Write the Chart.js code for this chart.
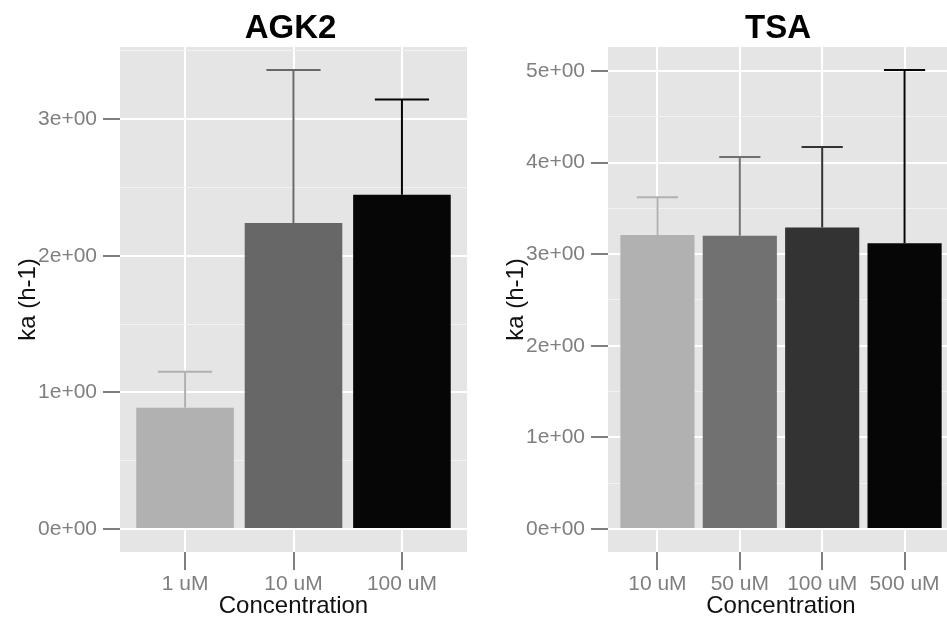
<!DOCTYPE html>
<html>
<head>
<meta charset="utf-8">
<script src="https://cdn.jsdelivr.net/npm/chart.js@4.4.1/dist/chart.umd.min.js"></script>
<style>
  html, body { margin: 0; padding: 0; background: #ffffff; overflow: hidden; width: 947px; height: 620px; }
  canvas { position: absolute; top: 0; }
  #agk2-chart { left: 0; }
  #tsa-chart { left: 488px; }
</style>
</head>
<body>
<canvas id="agk2-chart" width="467" height="620"></canvas>
<canvas id="tsa-chart" width="466" height="620"></canvas>
<script>
// AGK2 panel
let agk2Labels = ['1 uM', '10 uM', '100 uM'];
let agk2Means = [0.887, 2.24, 2.446];
let agk2Upper = [1.152, 3.36, 3.144];
let agk2Colors = ['#b1b1b1', '#676767', '#060606'];
let agk2YTicks = [0, 1, 2, 3];
let agk2YTickLabels = ['0e+00', '1e+00', '2e+00', '3e+00'];

// TSA panel
let tsaLabels = ['10 uM', '50 uM', '100 uM', '500 uM'];
let tsaMeans = [3.21, 3.20, 3.29, 3.12];
let tsaUpper = [3.62, 4.06, 4.17, 5.01];
let tsaColors = ['#b1b1b1', '#717171', '#333333', '#060606'];
let tsaYTicks = [0, 1, 2, 3, 4, 5];
let tsaYTickLabels = ['0e+00', '1e+00', '2e+00', '3e+00', '4e+00', '5e+00'];

const FONT = '"Liberation Sans", Arial, Helvetica, sans-serif';
const TICK_GREY = '#7f7f7f';

function makePanel(canvasId, title, labels, means, upper, colors, yTicks, yTickLabels) {
    // ggplot style: 5% expansion on y, 0.6 on discrete x
    let yTop = Math.max(...upper);
    let yMin = -0.05 * yTop;
    let yMax = yTop * 1.05;

    // major + minor breaks
    let yBreaks = [];
    for (let v = 0; v <= yMax; v += 0.5) yBreaks.push(v);

    const panel = {
        id: 'panel',
        beforeDraw(chart) {
            const {ctx, chartArea: a} = chart;
            ctx.save();
            ctx.fillStyle = '#e5e5e5';
            ctx.fillRect(a.left, a.top, a.right - a.left, a.bottom - a.top);
            ctx.restore();
        },
        afterDatasetsDraw(chart) {
            // upper error bars
            const ctx = chart.ctx;
            const xs = chart.scales.x, ys = chart.scales.y;
            const half = xs.getPixelForValue(0.25) - xs.getPixelForValue(0);
            ctx.save();
            ctx.lineWidth = 2;
            upper.forEach((u, i) => {
                const px = xs.getPixelForValue(i + 1);
                const top = ys.getPixelForValue(u);
                const base = ys.getPixelForValue(means[i]);
                ctx.strokeStyle = colors[i];
                ctx.beginPath();
                ctx.moveTo(px, base);
                ctx.lineTo(px, top);
                ctx.moveTo(px - half, top);
                ctx.lineTo(px + half, top);
                ctx.stroke();
            });
            ctx.restore();
        },
        afterDraw(chart) {
            const {ctx, chartArea: a} = chart;
            ctx.save();
            ctx.font = 'bold 33px ' + FONT;
            ctx.fillStyle = '#000000';
            ctx.textAlign = 'center';
            ctx.textBaseline = 'middle';
            ctx.fillText(title, (a.left + a.right) / 2 - 3, 29);
            ctx.restore();
        }
    };

    return new Chart(document.getElementById(canvasId), {
        type: 'bar',
        data: {
            datasets: [{
                data: labels.map((l, i) => ({x: i + 1, y: means[i]})),
                backgroundColor: colors,
                borderWidth: 0,
                barPercentage: 0.9,
                categoryPercentage: 1.0
            }]
        },
        options: {
            responsive: false,
            animation: false,
            layout: {padding: {top: 47, right: 0, bottom: 0, left: 0}},
            plugins: {legend: {display: false}, tooltip: {enabled: false}},
            scales: {
                x: {
                    type: 'linear',
                    min: 0.4,
                    max: labels.length + 0.6,
                    offset: false,
                    afterBuildTicks: s => { s.ticks = labels.map((l, i) => ({value: i + 1})); },
                    afterFit: s => { s.height = 68; },
                    grid: {
                        offset: false,
                        color: '#ffffff',
                        lineWidth: 2,
                        tickColor: TICK_GREY,
                        tickLength: 18,
                        tickWidth: 2
                    },
                    border: {display: false},
                    ticks: {
                        autoSkip: false,
                        maxRotation: 0,
                        padding: 2,
                        color: TICK_GREY,
                        font: {family: FONT, size: 21},
                        callback: v => labels[v - 1]
                    },
                    title: {
                        display: true,
                        text: 'Concentration',
                        color: '#111111',
                        font: {family: FONT, size: 24, lineHeight: 1.1},
                        padding: 0
                    }
                },
                y: {
                    min: yMin,
                    max: yMax,
                    afterBuildTicks: s => { s.ticks = yBreaks.map(v => ({value: v})); },
                    afterFit: s => { s.width = 120; },
                    grid: {
                        color: c => Number.isInteger(c.tick.value) ? '#ffffff' : '#f2f2f2',
                        lineWidth: c => Number.isInteger(c.tick.value) ? 2 : 1,
                        tickColor: c => Number.isInteger(c.tick.value) ? TICK_GREY : 'rgba(0,0,0,0)',
                        tickLength: 17,
                        tickWidth: 2
                    },
                    border: {display: false},
                    ticks: {
                        autoSkip: false,
                        padding: 6,
                        color: TICK_GREY,
                        font: {family: FONT, size: 21},
                        callback: v => {
                            let k = yTicks.indexOf(v);
                            return k >= 0 ? yTickLabels[k] : '';
                        }
                    },
                    title: {
                        display: true,
                        text: 'ka (h-1)',
                        color: '#111111',
                        font: {family: FONT, size: 24, lineHeight: 1.2},
                        padding: {top: 14, bottom: 0}
                    }
                }
            }
        },
        plugins: [panel]
    });
}

var agk2Chart = makePanel('agk2-chart', 'AGK2', agk2Labels, agk2Means, agk2Upper, agk2Colors, agk2YTicks, agk2YTickLabels);
var tsaChart = makePanel('tsa-chart', 'TSA', tsaLabels, tsaMeans, tsaUpper, tsaColors, tsaYTicks, tsaYTickLabels);
</script>
</body>
</html>
